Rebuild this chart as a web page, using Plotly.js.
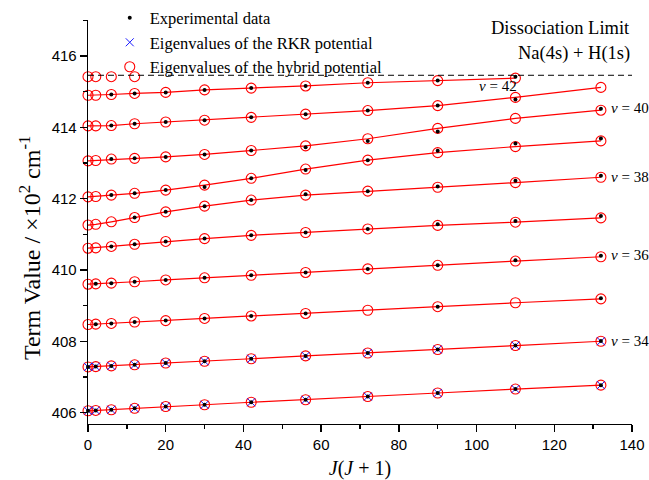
<!DOCTYPE html>
<html>
<head>
<meta charset="utf-8">
<script src="https://cdn.plot.ly/plotly-3.0.1.min.js"></script>
<style>html,body{margin:0;padding:0;background:#fff;}#chart{width:649px;height:480px;}</style>
</head>
<body>
<div id="chart"></div>
<script>
// x values: J(J+1) for J = 0..11
const JJ = [0, 2, 6, 12, 20, 30, 42, 56, 72, 90, 110, 132];

// Eigenvalues of the hybrid potential (×10^2 cm^-1), v = 33 .. 43
const hyb33 = [406.05, 406.06, 406.08, 406.12, 406.17, 406.22, 406.29, 406.36, 406.45, 406.55, 406.66, 406.77];
const hyb34 = [407.28, 407.29, 407.31, 407.34, 407.39, 407.44, 407.51, 407.59, 407.67, 407.77, 407.88, 408.00];
const hyb35 = [408.47, 408.48, 408.50, 408.54, 408.58, 408.64, 408.71, 408.78, 408.87, 408.97, 409.08, 409.19];
const hyb36 = [409.60, 409.61, 409.63, 409.67, 409.72, 409.78, 409.85, 409.93, 410.03, 410.13, 410.25, 410.37];
const hyb37 = [410.61, 410.62, 410.66, 410.72, 410.80, 410.88, 410.97, 411.05, 411.15, 411.25, 411.34, 411.46];
const hyb38 = [411.26, 411.28, 411.35, 411.47, 411.63, 411.79, 411.96, 412.10, 412.21, 412.32, 412.45, 412.60];
const hyb39 = [412.05, 412.06, 412.10, 412.15, 412.24, 412.38, 412.57, 412.83, 413.08, 413.29, 413.46, 413.62];
const hyb40 = [413.06, 413.07, 413.11, 413.13, 413.17, 413.24, 413.35, 413.48, 413.68, 413.97, 414.25, 414.48];
const hyb41 = [414.04, 414.04, 414.05, 414.10, 414.15, 414.20, 414.28, 414.37, 414.47, 414.61, 414.84, 415.12];
const hyb42 = [414.90, 414.90, 414.92, 414.95, 414.98, 415.05, 415.10, 415.16, 415.25, 415.31, 415.38];
const hyb43 = [415.42, 415.42, 415.42, 415.42];

// Eigenvalues of the RKR potential
const rkr33 = [406.05, 406.06, 406.08, 406.12, 406.17, 406.22, 406.29, 406.36, 406.45, 406.55, 406.66, 406.77];
const rkr34 = [407.28, 407.29, 407.31, 407.34, 407.39, 407.44, 407.51, 407.59, 407.67, 407.77, 407.88, 408.00];

// Experimental data (null = not observed)
const exp33 = [406.05, 406.06, 406.08, 406.12, 406.17, 406.22, 406.29, 406.36, 406.45, 406.55, 406.66, 406.77];
const exp34 = [407.28, 407.29, 407.31, 407.34, 407.39, 407.44, 407.51, 407.59, 407.67, 407.77, 407.88, 408.01];
const exp35 = [null, 408.48, 408.50, 408.54, 408.58, 408.64, 408.71, 408.78, null, 408.97, null, 409.21];
const exp36 = [null, 409.61, 409.63, 409.67, 409.72, 409.78, 409.85, 409.93, 410.03, 410.13, 410.27, 410.40];
const exp37 = [null, null, 410.66, 410.72, 410.80, 410.88, 410.97, 411.05, 411.15, 411.28, 411.37, 411.51];
const exp38 = [null, null, null, 411.47, 411.63, 411.79, 411.96, 412.12, 412.21, 412.34, 412.50, 412.64];
const exp39 = [null, null, 412.10, 412.15, 412.24, 412.33, 412.57, 412.80, 413.08, 413.34, 413.55, 413.69];
const exp40 = [null, null, 413.11, 413.13, 413.17, 413.24, 413.35, 413.44, 413.62, 413.88, null, 414.52];
const exp41 = [null, null, 414.05, 414.10, 414.15, 414.20, 414.28, 414.37, 414.47, 414.61, 414.78, null];
const exp42 = [null, null, 414.92, 414.95, 414.98, 415.05, 415.10, 415.16, 415.25, 415.31, 415.42];

const dissociationLimit = 415.46;

const hybLevels = [hyb33, hyb34, hyb35, hyb36, hyb37, hyb38, hyb39, hyb40, hyb41, hyb42];
const expLevels = [exp33, exp34, exp35, exp36, exp37, exp38, exp39, exp40, exp41, exp42];
const rkrLevels = [rkr33, rkr34];

const RED = '#ff0000', BLUE = '#1a1aff';
const traces = [];

// red connecting lines
hybLevels.forEach(function (h) {
  traces.push({x: JJ.slice(0, h.length), y: h, mode: 'lines', type: 'scatter',
    line: {color: RED, width: 1.2}, showlegend: false, hoverinfo: 'skip', cliponaxis: false});
});
// hybrid circles
hybLevels.concat([hyb43]).forEach(function (h, i) {
  traces.push({x: JJ.slice(0, h.length), y: h, mode: 'markers', type: 'scatter',
    name: 'Eigenvalues of the hybrid potential', legendgroup: 'hyb', legendrank: 3,
    showlegend: i === 0, cliponaxis: false,
    marker: {symbol: 'circle-open', size: 10, color: RED, line: {width: 1.1, color: RED}}});
});
// RKR crosses
rkrLevels.forEach(function (r, i) {
  traces.push({x: JJ.slice(0, r.length), y: r, mode: 'markers', type: 'scatter',
    name: 'Eigenvalues of the RKR potential', legendgroup: 'rkr', legendrank: 2,
    showlegend: i === 0, cliponaxis: false,
    marker: {symbol: 'x-thin-open', size: 8, color: BLUE, line: {width: 1, color: BLUE}}});
});
// experimental dots
expLevels.forEach(function (e, i) {
  traces.push({x: JJ.slice(0, e.length), y: e, mode: 'markers', type: 'scatter',
    name: 'Experimental data', legendgroup: 'exp', legendrank: 1,
    showlegend: i === 0, cliponaxis: false,
    marker: {symbol: 'circle', size: 4, color: '#000000'}});
});

const serif = 'Liberation Serif, Times New Roman, serif';
const sans = 'Liberation Sans, Arial, sans-serif';

function vLabel(text, x, y, xanchor) {
  return {xref: 'x', yref: 'y', x: x, y: y, xanchor: xanchor, yanchor: 'middle',
    text: '<i>v</i> = ' + text, showarrow: false, font: {family: serif, size: 15, color: '#000'}};
}

const layout = {
  width: 649, height: 480,
  margin: {l: 88, r: 17, t: 20, b: 56, autoexpand: false},
  paper_bgcolor: '#fff', plot_bgcolor: '#fff',
  showlegend: true,
  legend: {x: 0.04, y: 1.048, xanchor: 'left', yanchor: 'top', bgcolor: 'rgba(0,0,0,0)',
    font: {family: serif, size: 16.5, color: '#000'}, tracegroupgap: 0, itemwidth: 30},
  xaxis: {range: [0, 140], dtick: 20, tick0: 0, showgrid: false, zeroline: false, automargin: false,
    showline: true, linecolor: '#000', linewidth: 1.3, ticks: 'outside', ticklen: 7, tickwidth: 1.3,
    tickcolor: '#000', tickfont: {family: sans, size: 15, color: '#000'},
    minor: {dtick: 10, tick0: 0, ticks: 'outside', ticklen: 4, tickwidth: 1.3, tickcolor: '#000', showgrid: false},
    title: {text: '<i>J</i>(<i>J</i> + 1)', font: {family: serif, size: 20, color: '#000'}, standoff: 12}},
  yaxis: {range: [405.68, 417.01], dtick: 2, tick0: 406, showgrid: false, zeroline: false, automargin: false,
    showline: true, linecolor: '#000', linewidth: 1.3, ticks: 'outside', ticklen: 7, tickwidth: 1.3,
    tickcolor: '#000', tickfont: {family: sans, size: 15, color: '#000'},
    minor: {dtick: 1, tick0: 406, ticks: 'outside', ticklen: 4, tickwidth: 1.3, tickcolor: '#000', showgrid: false}},
  shapes: [{type: 'line', xref: 'paper', x0: 0, x1: 1, yref: 'y', y0: dissociationLimit, y1: dissociationLimit,
    line: {color: '#000', width: 1, dash: '6px,4px'}}],
  annotations: [
    {xref: 'paper', yref: 'paper', x: -0.107, y: 0.435, xanchor: 'center', yanchor: 'middle',
      textangle: -90, showarrow: false,
      text: 'Term Value / ×10<sup>2</sup> cm<sup>-1</sup>', font: {family: serif, size: 24, color: '#000'}},
    {xref: 'paper', yref: 'y', x: 1, y: 416.78, xanchor: 'right', yanchor: 'middle', showarrow: false,
      text: 'Dissociation Limit', font: {family: serif, size: 18.5, color: '#000'}},
    {xref: 'paper', yref: 'y', x: 1, y: 416.07, xanchor: 'right', yanchor: 'middle', showarrow: false,
      text: 'Na(4s) + H(1s)', font: {family: serif, size: 18.5, color: '#000'}},
    vLabel('42', 105.5, 415.15, 'center'),
    vLabel('40', 134, hyb40[11] + 0.06, 'left'),
    vLabel('38', 134, hyb38[11] + 0.02, 'left'),
    vLabel('36', 134, hyb36[11] + 0.05, 'left'),
    vLabel('34', 134, hyb34[11] + 0.01, 'left')
  ]
};

Plotly.newPlot('chart', traces, layout, {staticPlot: true, displayModeBar: false});
</script>
</body>
</html>
